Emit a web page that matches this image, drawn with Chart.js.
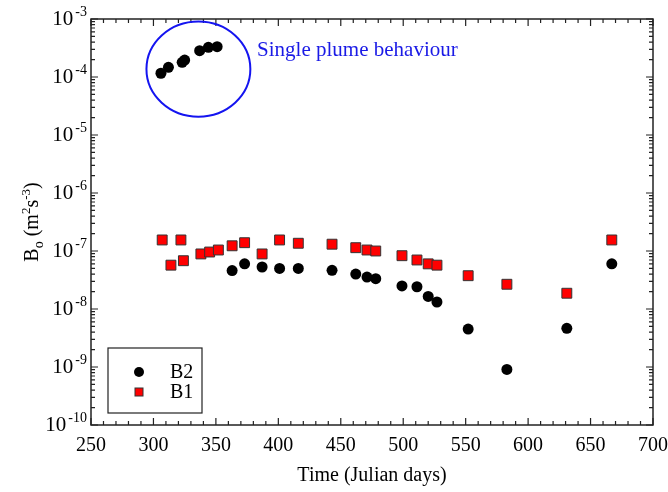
<!DOCTYPE html>
<html>
<head>
<meta charset="utf-8">
<script src="https://cdn.jsdelivr.net/npm/chart.js@4"></script>
<style>
  html, body { margin: 0; padding: 0; background: #fff; }
  #wrap { width: 668px; height: 492px; }
</style>
</head>
<body>
<div id="wrap"><canvas id="chart"></canvas></div>
<script>
// B2 (black circles)
const b2Days = [306, 312, 323, 325, 337, 344, 351, 363, 373, 387, 401, 416, 443, 462, 471, 478, 499, 511, 520, 527, 552, 583, 631, 667];
const b2Values = [1.16e-4, 1.47e-4, 1.79e-4, 1.96e-4, 2.84e-4, 3.25e-4, 3.33e-4, 4.6e-8, 6.0e-8, 5.3e-8, 5.0e-8, 5.0e-8, 4.65e-8, 4.0e-8, 3.56e-8, 3.33e-8, 2.5e-8, 2.42e-8, 1.65e-8, 1.32e-8, 4.5e-9, 9.1e-10, 4.65e-9, 6.0e-8];
// B1 (red squares)
const b1Days = [307, 314, 322, 324, 338, 345, 352, 363, 373, 387, 401, 416, 443, 462, 471, 478, 499, 511, 520, 527, 552, 583, 631, 667];
const b1Values = [1.55e-7, 5.7e-8, 1.55e-7, 6.8e-8, 8.9e-8, 9.6e-8, 1.04e-7, 1.23e-7, 1.39e-7, 8.9e-8, 1.55e-7, 1.36e-7, 1.31e-7, 1.14e-7, 1.04e-7, 1.0e-7, 8.3e-8, 7.0e-8, 6.0e-8, 5.7e-8, 3.75e-8, 2.67e-8, 1.87e-8, 1.55e-7];

const xMin = 250, xMax = 700, xStep = 50, xMinorStep = 10;
const yDecades = [-10, -9, -8, -7, -6, -5, -4, -3];

// annotation: ellipse around the single plume points (day, value, half-width in days, half-height in decades)
const plumeCenter = [336, 1.37e-4];
const plumeRadius = [41.6, 0.82];
const plumeNote = "Single plume behaviour";
const plumeNotePos = [383, 2.9e-4];

const SERIF = "'Liberation Serif', 'Times New Roman', serif";

const toPoints = (xs, ys) => xs.map((x, i) => ({ x: x, y: ys[i] }));

const decorations = {
  id: "decorations",
  afterDraw(chart) {
    const ctx = chart.ctx;
    const a = chart.chartArea;
    const xs = chart.scales.x, ys = chart.scales.y;
    ctx.save();

    // frame
    ctx.strokeStyle = "#222";
    ctx.lineWidth = 1.5;
    ctx.strokeRect(a.left, a.top, a.right - a.left, a.bottom - a.top);

    // inward ticks, x
    ctx.lineWidth = 1.2;
    ctx.beginPath();
    for (let v = xMin; v <= xMax; v += xMinorStep) {
      const px = xs.getPixelForValue(v);
      const len = v % xStep === 0 ? 7 : 4;
      ctx.moveTo(px, a.bottom); ctx.lineTo(px, a.bottom - len);
      ctx.moveTo(px, a.top); ctx.lineTo(px, a.top + len);
    }
    // inward ticks, y (log)
    yDecades.forEach(e => {
      for (let m = 1; m <= 9; m++) {
        if (e === yDecades[yDecades.length - 1] && m > 1) break;
        const py = ys.getPixelForValue(m * Math.pow(10, e));
        const len = m === 1 ? 7 : 4;
        ctx.moveTo(a.left, py); ctx.lineTo(a.left + len, py);
        ctx.moveTo(a.right, py); ctx.lineTo(a.right - len, py);
      }
    });
    ctx.stroke();

    // y tick labels 10^n
    ctx.fillStyle = "#000";
    ctx.textBaseline = "middle";
    ctx.textAlign = "left";
    yDecades.forEach(e => {
      const py = ys.getPixelForValue(Math.pow(10, e));
      const sup = String(e);
      ctx.font = "14px " + SERIF;
      const supW = ctx.measureText(sup).width;
      ctx.font = "21px " + SERIF;
      const mainW = ctx.measureText("10").width;
      const right = a.left - 4;
      ctx.fillText("10", right - supW - 2 - mainW, py);
      ctx.font = "14px " + SERIF;
      ctx.fillText(sup, right - supW, py - 7);
    });

    // y axis title: B_o (m^2 s^-3)
    const parts = [
      { t: "B", s: 20, dy: 0 },
      { t: "o", s: 14, dy: 5 },
      { t: " (m", s: 20, dy: 0 },
      { t: "2", s: 13, dy: -8 },
      { t: "s", s: 20, dy: 0 },
      { t: "-3", s: 13, dy: -8 },
      { t: ")", s: 20, dy: 0 }
    ];
    let total = 0;
    parts.forEach(p => { ctx.font = p.s + "px " + SERIF; p.w = ctx.measureText(p.t).width; total += p.w; });
    ctx.save();
    ctx.translate(38, (a.top + a.bottom) / 2);
    ctx.rotate(-Math.PI / 2);
    ctx.textBaseline = "alphabetic";
    let cx = -total / 2;
    parts.forEach(p => {
      ctx.font = p.s + "px " + SERIF;
      ctx.fillText(p.t, cx, p.dy);
      cx += p.w;
    });
    ctx.restore();

    // plume ellipse and note
    const ex = xs.getPixelForValue(plumeCenter[0]);
    const ey = ys.getPixelForValue(plumeCenter[1]);
    const erx = xs.getPixelForValue(plumeCenter[0] + plumeRadius[0]) - ex;
    const ery = ey - ys.getPixelForValue(plumeCenter[1] * Math.pow(10, plumeRadius[1]));
    ctx.strokeStyle = "#1414f0";
    ctx.lineWidth = 2;
    ctx.beginPath();
    ctx.ellipse(ex, ey, erx, ery, 0, 0, Math.PI * 2);
    ctx.stroke();
    ctx.fillStyle = "#1a1ae6";
    ctx.font = "21px " + SERIF;
    ctx.textBaseline = "middle";
    ctx.fillText(plumeNote, xs.getPixelForValue(plumeNotePos[0]), ys.getPixelForValue(plumeNotePos[1]));

    // legend box
    const bx = a.left + 17, by = a.bottom - 77, bw = 94, bh = 65;
    ctx.strokeStyle = "#222";
    ctx.lineWidth = 1.2;
    ctx.fillStyle = "#fff";
    ctx.fillRect(bx, by, bw, bh);
    ctx.strokeRect(bx, by, bw, bh);
    chart.data.datasets.forEach((ds, i) => {
      const ly = by + 24 + i * 20;
      const lx = bx + 31;
      if (ds.pointStyle === "rect") {
        ctx.fillStyle = ds.backgroundColor;
        ctx.fillRect(lx - 4, ly - 4, 8, 8);
        ctx.strokeStyle = ds.borderColor;
        ctx.lineWidth = 1;
        ctx.strokeRect(lx - 4, ly - 4, 8, 8);
      } else {
        ctx.fillStyle = ds.backgroundColor;
        ctx.beginPath();
        ctx.arc(lx, ly, 5, 0, Math.PI * 2);
        ctx.fill();
      }
      ctx.fillStyle = "#000";
      ctx.font = "20px " + SERIF;
      ctx.textBaseline = "middle";
      ctx.fillText(ds.label, bx + 62, ly + 1);
    });

    ctx.restore();
  }
};

new Chart(document.getElementById("chart"), {
  type: "scatter",
  data: {
    datasets: [
      {
        label: "B2",
        data: toPoints(b2Days, b2Values),
        pointStyle: "circle",
        pointRadius: 5.5,
        backgroundColor: "#000",
        borderColor: "#000",
        borderWidth: 0
      },
      {
        label: "B1",
        data: toPoints(b1Days, b1Values),
        pointStyle: "rect",
        pointRadius: 7,
        backgroundColor: "#ff0000",
        borderColor: "#333",
        borderWidth: 1
      }
    ]
  },
  plugins: [decorations],
  options: {
    responsive: true,
    maintainAspectRatio: false,
    animation: false,
    layout: { padding: { top: 19, right: 15, left: 0, bottom: 0 } },
    plugins: {
      legend: { display: false },
      tooltip: { enabled: false }
    },
    scales: {
      x: {
        type: "linear",
        min: xMin,
        max: xMax,
        grid: { display: false, drawTicks: false },
        border: { display: false },
        ticks: {
          stepSize: xStep,
          padding: 9,
          color: "#000",
          font: { family: SERIF, size: 20 }
        },
        title: {
          display: true,
          text: "Time (Julian days)",
          color: "#000",
          font: { family: SERIF, size: 20 },
          padding: { top: 0, bottom: 4 }
        },
        afterFit: s => { s.height = 67; s.paddingRight = 0; s.paddingLeft = 0; }
      },
      y: {
        type: "logarithmic",
        min: 1e-10,
        max: 1e-3,
        grid: { display: false, drawTicks: false },
        border: { display: false },
        ticks: { display: false },
        afterFit: s => { s.width = 91; }
      }
    }
  }
});
</script>
</body>
</html>
